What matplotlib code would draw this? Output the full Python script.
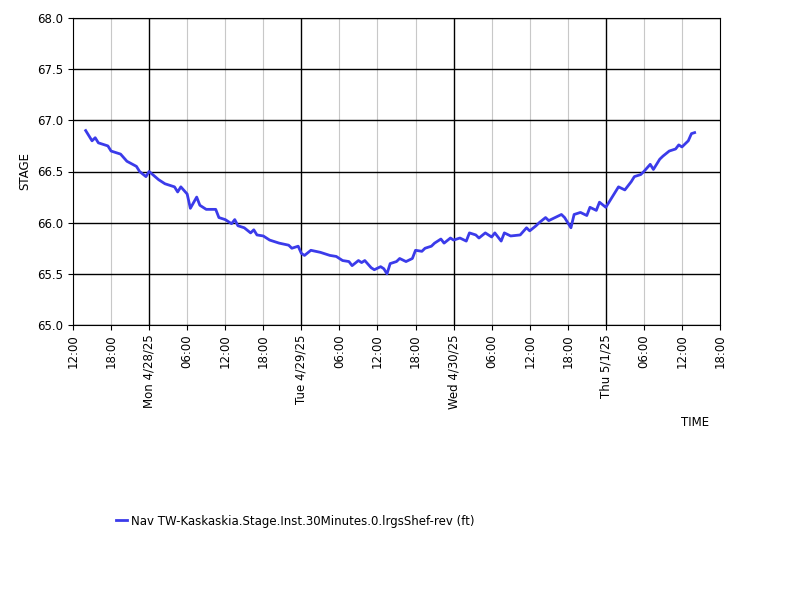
import matplotlib
matplotlib.use('Agg')
from matplotlib import pyplot as plt
import numpy as np

# hours since 4/27/25 12:00
hours = [2, 3, 3.5, 4, 5.5, 6, 7.5, 8.5, 10, 10.5, 11.5, 12, 13.5, 14.5, 16, 16.5, 17, 18,
         18.5, 19.5, 20, 21, 22.5, 23, 24, 25, 25.5, 26, 27, 28, 28.5, 29, 30, 31, 32.5, 34,
         34.5, 35.5, 36, 36.5, 37.5, 39, 40.5, 41.5, 42.5, 43.5, 44, 45, 45.5, 46, 47, 47.5,
         48.5, 49, 49.5, 50, 51, 51.5, 52.5, 53.5, 54, 55, 55.5, 56.5, 57, 58, 58.5, 59.5, 60,
         61, 62, 62.5, 63.5, 64, 65, 66, 66.5, 67.5, 68, 69, 70.5, 71.5, 72, 73, 73.5, 74.5,
         75, 76, 77, 77.5, 78.5, 79, 80, 81, 81.5, 82.5, 83, 84, 85, 85.5, 86, 87, 88, 88.5,
         89.5, 90, 91, 91.5, 92.5, 93, 94, 95, 95.5, 96, 97, 97.5, 98]
stage = [66.9, 66.8, 66.83, 66.78, 66.75, 66.7, 66.67, 66.6, 66.55, 66.5, 66.45, 66.5, 66.42,
         66.38, 66.35, 66.3, 66.35, 66.28, 66.14, 66.25, 66.17, 66.13, 66.13, 66.05, 66.03,
         65.99, 66.03, 65.97, 65.95, 65.9, 65.93, 65.88, 65.87, 65.83, 65.8, 65.78, 65.75,
         65.77, 65.7, 65.68, 65.73, 65.71, 65.68, 65.67, 65.63, 65.62, 65.58, 65.63, 65.61,
         65.63, 65.56, 65.54, 65.57, 65.55, 65.5, 65.6, 65.62, 65.65, 65.62, 65.65, 65.73,
         65.72, 65.75, 65.77, 65.8, 65.84, 65.8, 65.85, 65.83, 65.85, 65.82, 65.9, 65.88,
         65.85, 65.9, 65.86, 65.9, 65.82, 65.9, 65.87, 65.88, 65.95, 65.92, 65.97, 66.0,
         66.05, 66.02, 66.05, 66.08, 66.05, 65.95, 66.08, 66.1, 66.07, 66.15, 66.12, 66.2,
         66.15, 66.25, 66.3, 66.35, 66.32, 66.4, 66.45, 66.47, 66.5, 66.57, 66.52, 66.62,
         66.65, 66.7, 66.72, 66.76, 66.74, 66.8, 66.87, 66.88]

tick_labels = ['12:00', '18:00', 'Mon 4/28/25', '06:00', '12:00', '18:00', 'Tue 4/29/25',
               '06:00', '12:00', '18:00', 'Wed 4/30/25', '06:00', '12:00', '18:00',
               'Thu 5/1/25', '06:00', '12:00', '18:00']
series_name = 'Nav TW-Kaskaskia.Stage.Inst.30Minutes.0.lrgsShef-rev (ft)'

fig = plt.figure(figsize=(8, 6), dpi=100)
ax = fig.add_axes([73/800, 1-325/600, 647/800, 307/600])
ln, = ax.plot(hours, stage, color='#3b3bea', lw=2)

ticks = np.arange(0, 103, 6)
ax.set_xlim(0, 102)
ax.set_ylim(65, 68)
ax.set_xticks(ticks)
ax.set_xticklabels(tick_labels, rotation=90, fontsize=8.5)
ax.set_yticks(np.arange(65, 68.01, 0.5))
ax.set_yticklabels([f'{v:.1f}' for v in np.arange(65, 68.01, 0.5)], fontsize=8.5)
for t in ticks:
    day = (t - 12) % 24 == 0
    ax.axvline(t, color='black' if day else '#c8c8c8', lw=1 if day else 0.8, zorder=0)
ax.grid(axis='y', color='black', lw=1, zorder=0)
ax.set_ylabel('STAGE', fontsize=8.5)
fig.text(695/800, 1-423/600, 'TIME', ha='center', va='center', fontsize=8.5)
fig.legend([ln], [series_name], loc='center left', bbox_to_anchor=(105/800, 1-521/600),
           frameon=False, fontsize=8.5, handlelength=1, handletextpad=0.3)
fig.savefig('out.png')
